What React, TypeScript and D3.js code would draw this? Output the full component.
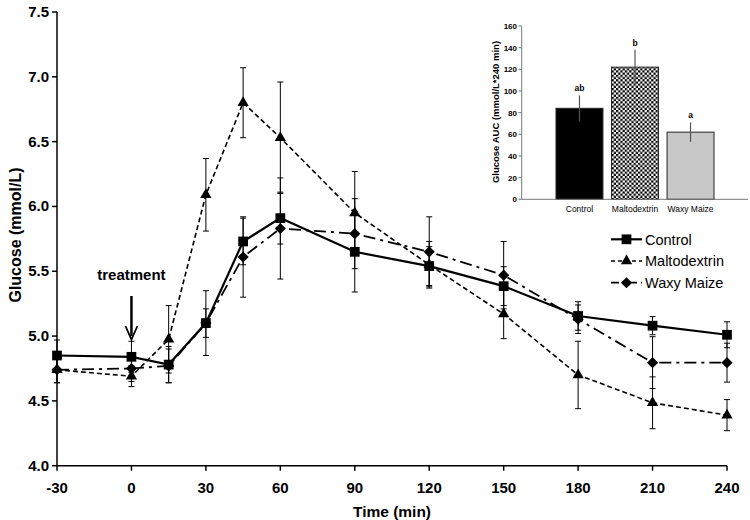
import * as d3 from 'd3';

// time points (min)
const times = [-30, 0, 15, 30, 45, 60, 90, 120, 150, 180, 210, 240];

// glucose (mmol/L), mean and SE
const control = [4.85, 4.84, 4.78, 5.1, 5.73, 5.91, 5.65, 5.54, 5.385, 5.155, 5.08, 5.01];
const controlSE = [0.12, 0.12, 0.14, 0.25, 0.18, 0.2, 0.31, 0.15, 0.15, 0.11, 0.07, 0.1];
const malto = [4.74, 4.69, 4.975, 6.09, 6.8, 6.53, 5.95, 5.55, 5.17, 4.7, 4.485, 4.39];
const maltoSE = [0.1, 0.08, 0.26, 0.28, 0.27, 0.43, 0.32, 0.18, 0.19, 0.26, 0.2, 0.12];
const waxy = [4.74, 4.75, 4.77, 5.1, 5.61, 5.83, 5.79, 5.65, 5.47, 5.13, 4.795, 4.795];
const waxySE = [0.1, 0.1, 0.13, 0.11, 0.31, 0.39, 0.27, 0.27, 0.26, 0.11, 0.2, 0.15];

const xTicks = [-30, 0, 30, 60, 90, 120, 150, 180, 210, 240];
const yTicks = [4.0, 4.5, 5.0, 5.5, 6.0, 6.5, 7.0, 7.5];

// inset: glucose AUC
const aucCategories = ['Control', 'Maltodextrin', 'Waxy Maize'];
const aucValues = [84, 122, 62];
const aucSE = [12, 16, 9];
const aucLetters = ['ab', 'b', 'a'];
const aucTicks = [0, 20, 40, 60, 80, 100, 120, 140, 160];

const FONT = 'Liberation Sans, Arial, Helvetica, sans-serif';

type Series = {
  name: string;
  values: number[];
  se: number[];
  dash: string;
  width: number;
  symbol: d3.SymbolType;
  size: number;
  rotate: number;
};

const series: Series[] = [
  { name: 'Control', values: control, se: controlSE, dash: '', width: 2.2, symbol: d3.symbolSquare, size: 95, rotate: 0 },
  { name: 'Maltodextrin', values: malto, se: maltoSE, dash: '5,3', width: 1.6, symbol: d3.symbolTriangle, size: 55, rotate: 0 },
  { name: 'Waxy Maize', values: waxy, se: waxySE, dash: '12,5,3,5', width: 1.8, symbol: d3.symbolSquare, size: 62, rotate: 45 },
];

export default function App() {
  const W = 750;
  const H = 520;

  const x = d3.scaleLinear().domain([-30, 240]).range([57, 727]);
  const y = d3.scaleLinear().domain([4, 7.5]).range([465.7, 12]);

  const line = d3
    .line<number>()
    .x((_, i) => x(times[i]))
    .y(d => y(d));

  // inset scales
  const bx = d3.scaleBand().domain(aucCategories).range([556, 714]).paddingInner(0.155).paddingOuter(0);
  const by = d3.scaleLinear().domain([0, 160]).range([199.3, 26]);

  const arrowX = x(0);

  return (
    <svg width={W} height={H} style={{ position: 'absolute', left: 0, top: 0, background: '#fff' }} fontFamily={FONT}>
      <defs>
        <pattern id="checker" width="4.4" height="4.4" patternUnits="userSpaceOnUse">
          <rect width="4.4" height="4.4" fill="#fff" />
          <rect width="2.2" height="2.2" fill="#000" />
          <rect x="2.2" y="2.2" width="2.2" height="2.2" fill="#000" />
        </pattern>
      </defs>

      {/* main axes */}
      <line x1={x(-30)} x2={x(240)} y1={y(4)} y2={y(4)} stroke="#000" strokeWidth={1.5} />
      <line x1={x(-30)} x2={x(-30)} y1={y(4)} y2={y(7.5)} stroke="#000" strokeWidth={1.5} />
      {yTicks.map(t => (
        <g key={t}>
          <line x1={x(-30) - 5} x2={x(-30)} y1={y(t)} y2={y(t)} stroke="#000" strokeWidth={1.5} />
          <text x={x(-30) - 8} y={y(t) + 5} textAnchor="end" fontSize={15} fontWeight="bold">
            {t.toFixed(1)}
          </text>
        </g>
      ))}
      {xTicks.map(t => (
        <g key={t}>
          <line x1={x(t)} x2={x(t)} y1={y(4)} y2={y(4) + 5} stroke="#000" strokeWidth={1.5} />
          <text x={x(t)} y={493} textAnchor="middle" fontSize={15} fontWeight="bold">
            {t}
          </text>
        </g>
      ))}
      <text x={392} y={517} textAnchor="middle" fontSize={15.5} fontWeight="bold">
        Time (min)
      </text>
      <text
        transform={`translate(21,235) rotate(-90)`}
        textAnchor="middle"
        fontSize={16}
        fontWeight="bold"
      >
        Glucose (mmol/L)
      </text>

      {/* error bars */}
      {series.map(s =>
        s.values.map((v, i) => {
          const cx = x(times[i]);
          const top = y(v + s.se[i]);
          const bot = y(v - s.se[i]);
          return (
            <g key={s.name + i} stroke="#000" strokeWidth={1}>
              <line x1={cx} x2={cx} y1={top} y2={bot} />
              <line x1={cx - 3} x2={cx + 3} y1={top} y2={top} />
              <line x1={cx - 3} x2={cx + 3} y1={bot} y2={bot} />
            </g>
          );
        })
      )}

      {/* lines */}
      {series.map(s => (
        <path
          key={s.name}
          d={line(s.values) || ''}
          fill="none"
          stroke="#000"
          strokeWidth={s.width}
          strokeDasharray={s.dash}
        />
      ))}

      {/* markers */}
      {series.map(s =>
        s.values.map((v, i) => (
          <path
            key={s.name + 'm' + i}
            d={d3.symbol(s.symbol, s.size)() || ''}
            transform={`translate(${x(times[i])},${y(v)}) rotate(${s.rotate})`}
            fill="#000"
          />
        ))
      )}

      {/* treatment arrow */}
      <text x={arrowX} y={280} textAnchor="middle" fontSize={15} fontWeight="bold">
        treatment
      </text>
      <line x1={arrowX} x2={arrowX} y1={296} y2={336} stroke="#000" strokeWidth={2.5} />
      <path
        d={`M${arrowX - 6},${326} L${arrowX},${339.5} L${arrowX + 6},${326}`}
        fill="none"
        stroke="#000"
        strokeWidth={1.8}
      />

      {/* legend */}
      {series.map((s, i) => {
        const ly = 239.3 + i * 21.7;
        return (
          <g key={s.name + 'leg'}>
            <line x1={611} x2={642} y1={ly} y2={ly} stroke="#000" strokeWidth={s.width} strokeDasharray={s.dash === '' ? '' : s.dash === '5,3' ? '4,3' : '8,4,2,4'} />
            <path
              d={d3.symbol(s.symbol, s.size)() || ''}
              transform={`translate(626.5,${ly}) rotate(${s.rotate})`}
              fill="#000"
            />
            <text x={645} y={ly + 5.3} fontSize={14.5}>
              {s.name}
            </text>
          </g>
        );
      })}

      {/* inset bar chart */}
      <g>
        {aucCategories.map((c, i) => {
          const bxPos = bx(c) || 0;
          const fill = i === 0 ? '#000' : i === 1 ? 'url(#checker)' : '#c8c8c8';
          const cx = bxPos + bx.bandwidth() / 2;
          return (
            <g key={c}>
              <rect
                x={bxPos}
                y={by(aucValues[i])}
                width={bx.bandwidth()}
                height={by(0) - by(aucValues[i])}
                fill={fill}
                stroke="#222"
                strokeWidth={1}
              />
              <line
                x1={cx}
                x2={cx}
                y1={by(aucValues[i] + aucSE[i])}
                y2={by(aucValues[i] - aucSE[i])}
                stroke="#555"
                strokeWidth={1.2}
              />
              <text x={cx} y={by(aucValues[i] + aucSE[i]) - 4} textAnchor="middle" fontSize={8.5} fontWeight="bold">
                {aucLetters[i]}
              </text>
              <text x={cx} y={211.5} textAnchor="middle" fontSize={8.5}>
                {c}
              </text>
            </g>
          );
        })}
        <line x1={521.7} x2={748} y1={by(0)} y2={by(0)} stroke="#777" strokeWidth={1} />
        <line x1={521.7} x2={521.7} y1={by(0)} y2={by(160)} stroke="#777" strokeWidth={1} />
        {aucTicks.map(t => (
          <g key={t}>
            <line x1={518.5} x2={521.7} y1={by(t)} y2={by(t)} stroke="#777" strokeWidth={1} />
            <text x={517} y={by(t) + 3} textAnchor="end" fontSize={8} fontWeight="bold">
              {t}
            </text>
          </g>
        ))}
        <text transform="translate(499,112) rotate(-90)" textAnchor="middle" fontSize={9.5} fontWeight="bold">
          Glucose AUC (mmol/L*240 min)
        </text>
      </g>
    </svg>
  );
}
